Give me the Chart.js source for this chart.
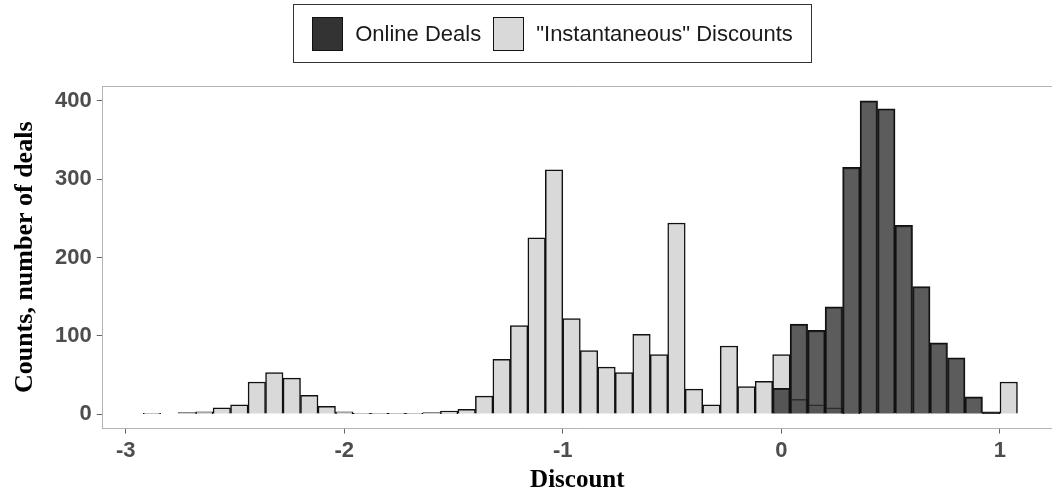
<!DOCTYPE html>
<html>
<head>
<meta charset="utf-8">
<script src="https://cdn.jsdelivr.net/npm/chart.js@4.4.1/dist/chart.umd.min.js"></script>
<style>
  html, body { margin: 0; padding: 0; background: #fff; }
  #wrap { position: relative; width: 1052px; height: 499px; }
  #legend {
    position: absolute; left: 293px; top: 4px; width: 517px; height: 57px;
    border: 1px solid #333; box-sizing: content-box;
    display: flex; align-items: center; justify-content: center;
    font-family: 'Liberation Sans', Arial, sans-serif; font-size: 22px; color: #1a1a1a;
  }
  .key { width: 29px; height: 32px; border: 1.5px solid #111; margin: 0 12px 0 0; }
  .item { display: flex; align-items: center; margin: 0 6px; }
</style>
</head>
<body>
<div id="wrap">
  <canvas id="histChart" width="1052" height="499"></canvas>
  <div id="legend"></div>
</div>
<script>
// bin centres are k * 0.08 for the bin indices below
const BIN_WIDTH = 0.08;
const instantBins = [
  -36, -35, -34, -33, -32, -31, -30, -29, -28, -27, -26, -25, -24, -23, -22, -21,
  -20, -19, -18, -17, -16, -15, -14, -13, -12, -11, -10, -9, -8, -7, -6, -5,
  -4, -3, -2, -1, 0, 1, 2, 3, 4, 13,
];
const instantCounts = [
  1, 0, 2, 3, 8, 12, 41, 53, 46, 24, 10, 3, 1, 1, 1, 1,
  2, 4, 6, 23, 70, 113, 225, 312, 122, 81, 60, 53, 102, 76, 244, 32,
  12, 87, 35, 42, 76, 19, 12, 8, 1, 41,
];
const onlineBins = [0, 1, 2, 3, 4, 5, 6, 7, 8, 9, 10, 11, 12];
const onlineCounts = [33, 115, 107, 137, 315, 400, 390, 241, 163, 91, 72, 22, 3];

const xTicks = [-3, -2, -1, 0, 1];
const yTicks = [0, 100, 200, 300, 400];

const seriesLabels = ['Online Deals', '"Instantaneous" Discounts'];
const keyColors = ['#333333', '#d9d9d9'];

const toPoints = (bins, counts) => bins.map((b, i) => ({ x: +(b * BIN_WIDTH).toFixed(2), y: counts[i] }));

/**
 * Draw the top edge of the panel border (left/bottom come from the axes)
 */
const panelBorder = {
  id: 'panelBorder',
  afterDraw(chart) {
    const { ctx, chartArea: a } = chart;
    ctx.save();
    ctx.strokeStyle = '#b3b3b3';
    ctx.lineWidth = 1;
    ctx.beginPath();
    ctx.moveTo(a.left, a.top + 0.5);
    ctx.lineTo(a.right, a.top + 0.5);
    ctx.stroke();
    ctx.restore();
  },
};

const tickFont = { family: "'Liberation Sans', Arial, sans-serif", size: 22, weight: 'bold' };
const titleFont = { family: "'Liberation Serif', 'Times New Roman', serif", size: 25, weight: 'bold', lineHeight: 1 };

const ctx = document.getElementById('histChart').getContext('2d');
const chart = new Chart(ctx, {
  type: 'bar',
  data: {
    datasets: [
      {
        label: seriesLabels[0],
        data: toPoints(onlineBins, onlineCounts),
        backgroundColor: 'rgba(51, 51, 51, 0.8)',
        borderColor: '#111',
        borderWidth: 1.5,
      },
      {
        label: seriesLabels[1],
        data: toPoints(instantBins, instantCounts),
        backgroundColor: '#d9d9d9',
        borderColor: '#111',
        borderWidth: 1.5,
      },
    ],
  },
  options: {
    responsive: false,
    animation: false,
    grouped: false,
    barPercentage: 1,
    categoryPercentage: 1,
    layout: { padding: { top: 86, right: 0, left: 12, bottom: 0 } },
    plugins: {
      legend: { display: false },
      tooltip: { enabled: false },
    },
    scales: {
      x: {
        type: 'linear',
        offset: false,
        min: -3.105,
        max: 1.238,
        afterBuildTicks: (s) => { s.ticks = xTicks.map(v => ({ value: v })); },
        ticks: { font: tickFont, color: '#4d4d4d', padding: 4, maxRotation: 0 },
        grid: { offset: false, drawOnChartArea: false, drawTicks: true, tickLength: 5, tickColor: '#666' },
        border: { display: true, color: '#b3b3b3', width: 1 },
        title: { display: true, text: 'Discount', font: titleFont, color: '#000', padding: { top: 0, bottom: 6 } },
      },
      y: {
        min: -18.5,
        max: 419,
        afterBuildTicks: (s) => { s.ticks = yTicks.map(v => ({ value: v })); },
        ticks: { font: tickFont, color: '#4d4d4d', padding: 5 },
        grid: { drawOnChartArea: false, drawTicks: true, tickLength: 6, tickColor: '#666' },
        border: { display: true, color: '#b3b3b3', width: 1 },
        title: { display: true, text: 'Counts, number of deals', font: { ...titleFont, size: 26 }, color: '#000', padding: { top: 0, bottom: 12 } },
      },
    },
  },
  plugins: [panelBorder],
});

// HTML legend built from the dataset labels
const legend = document.getElementById('legend');
seriesLabels.forEach((label, i) => {
  const item = document.createElement('div');
  item.className = 'item';
  item.innerHTML = `<div class="key" style="background:${keyColors[i]}"></div><span></span>`;
  item.querySelector('span').textContent = label;
  legend.appendChild(item);
});
</script>
</body>
</html>
